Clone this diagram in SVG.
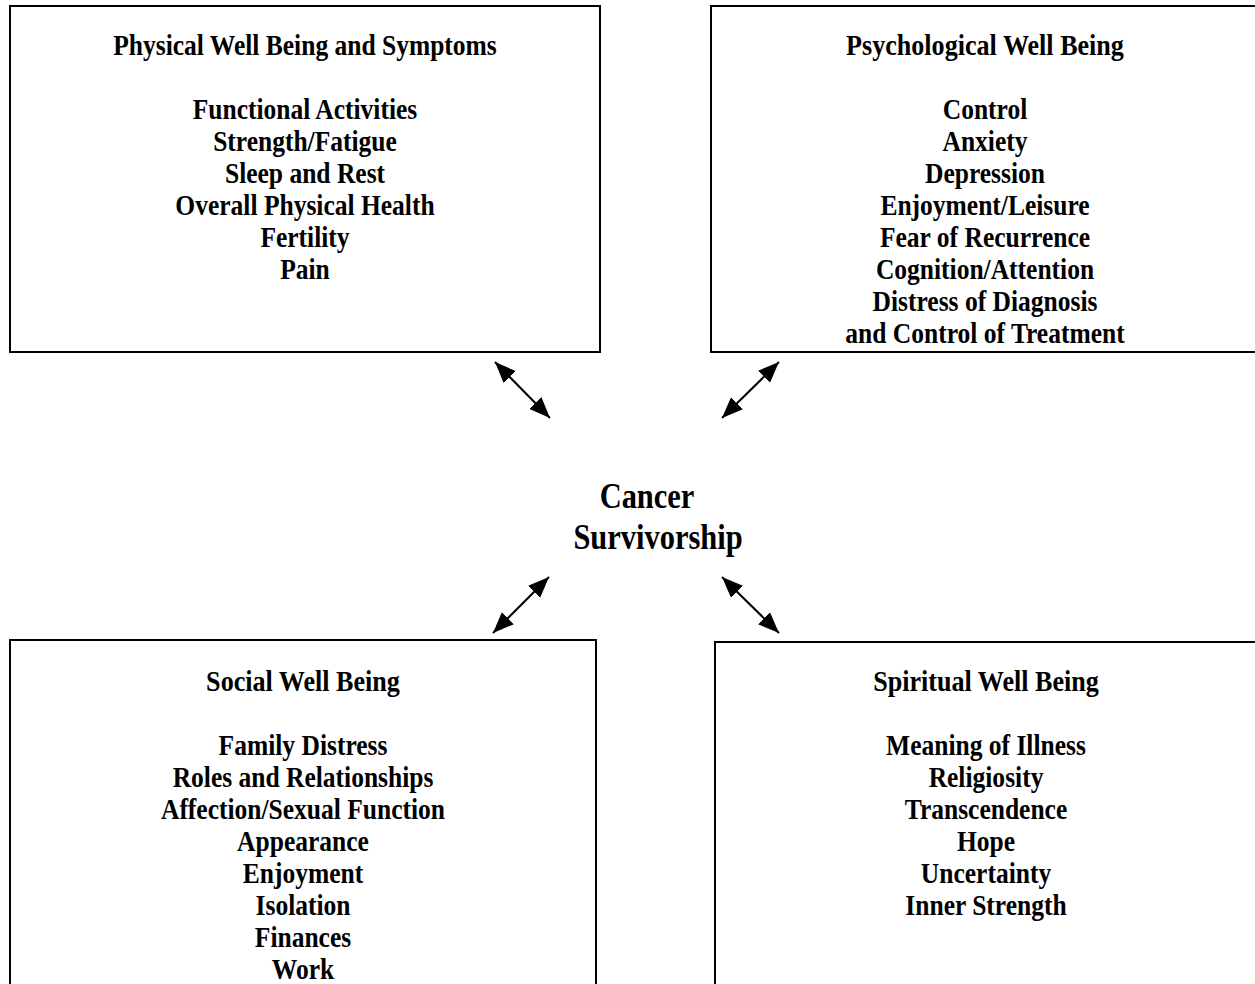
<svg xmlns="http://www.w3.org/2000/svg" width="1255" height="984" viewBox="0 0 1255 984">
<style>
.box{fill:#fff;stroke:#000;stroke-width:2}
text{font-family:"Liberation Serif","Times New Roman",serif;font-weight:bold;fill:#000;text-anchor:middle;font-size:29px}
.c{font-size:35px}
.conn line{stroke:#000;stroke-width:2;marker-start:url(#ah);marker-end:url(#ah)}
</style>
<defs>
<marker id="ah" viewBox="0 0 21 17" refX="21" refY="8.5" markerWidth="21" markerHeight="17" markerUnits="userSpaceOnUse" orient="auto-start-reverse">
<path d="M0,0 L21,8.5 L0,17 z" fill="#000"/>
</marker>
</defs>
<rect width="1255" height="984" fill="#fff"/>
<g id="physical">
<rect class="box" x="10" y="6" width="590" height="346"/>
<g transform="translate(305 0) scale(0.88 1)">
<text x="0" y="55">Physical Well Being and Symptoms</text>
</g>
<g transform="translate(305 0) scale(0.88 1)">
<text x="0" y="119">Functional Activities</text>
<text x="0" y="151">Strength/Fatigue</text>
<text x="0" y="183">Sleep and Rest</text>
<text x="0" y="215">Overall Physical Health</text>
<text x="0" y="247">Fertility</text>
<text x="0" y="279">Pain</text>
</g>
</g>
<g id="psychological">
<rect class="box" x="711" y="6" width="560" height="346"/>
<g transform="translate(985 0) scale(0.9 1)">
<text x="0" y="55">Psychological Well Being</text>
</g>
<g transform="translate(985 0) scale(0.88 1)">
<text x="0" y="119">Control</text>
<text x="0" y="151">Anxiety</text>
<text x="0" y="183">Depression</text>
<text x="0" y="215">Enjoyment/Leisure</text>
<text x="0" y="247">Fear of Recurrence</text>
<text x="0" y="279">Cognition/Attention</text>
<text x="0" y="311">Distress of Diagnosis</text>
<text x="0" y="343">and Control of Treatment</text>
</g>
</g>
<g id="center">
<g transform="translate(647 0) scale(0.87 1)"><text class="c" x="0" y="508">Cancer</text></g>
<g transform="translate(658 0) scale(0.87 1)"><text class="c" x="0" y="549">Survivorship</text></g>
</g>
<g id="social">
<rect class="box" x="10" y="640" width="586" height="360"/>
<g transform="translate(303 0) scale(0.9 1)">
<text x="0" y="691">Social Well Being</text>
</g>
<g transform="translate(303 0) scale(0.88 1)">
<text x="0" y="755">Family Distress</text>
<text x="0" y="787">Roles and Relationships</text>
<text x="0" y="819">Affection/Sexual Function</text>
<text x="0" y="851">Appearance</text>
<text x="0" y="883">Enjoyment</text>
<text x="0" y="915">Isolation</text>
<text x="0" y="947">Finances</text>
<text x="0" y="979">Work</text>
</g>
</g>
<g id="spiritual">
<rect class="box" x="715" y="642" width="560" height="360"/>
<g transform="translate(986 0) scale(0.9 1)">
<text x="0" y="691">Spiritual Well Being</text>
</g>
<g transform="translate(986 0) scale(0.88 1)">
<text x="0" y="755">Meaning of Illness</text>
<text x="0" y="787">Religiosity</text>
<text x="0" y="819">Transcendence</text>
<text x="0" y="851">Hope</text>
<text x="0" y="883">Uncertainty</text>
<text x="0" y="915">Inner Strength</text>
</g>
</g>
<g id="connectors" class="conn">
<line x1="495" y1="362" x2="550" y2="418"/>
<line x1="779" y1="362" x2="722" y2="418"/>
<line x1="549" y1="577" x2="493" y2="633"/>
<line x1="722" y1="577" x2="779" y2="633"/>
</g>
</svg>
